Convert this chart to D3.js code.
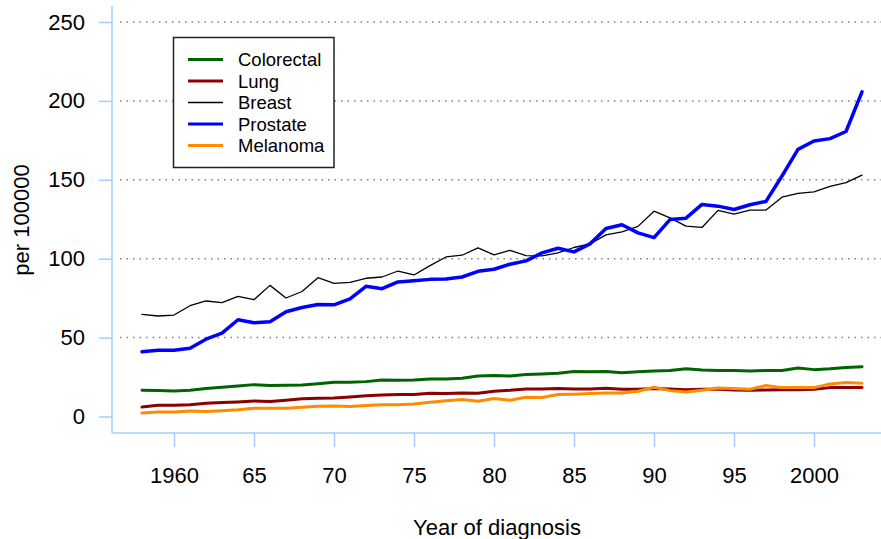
<!DOCTYPE html>
<html>
<head>
<meta charset="utf-8">
<script src="https://cdn.jsdelivr.net/npm/d3@7"></script>
<style>
  html, body { margin: 0; padding: 0; background: #fff; }
  svg { display: block; }
  text { font-family: "Liberation Sans", Arial, sans-serif; fill: #000; }
</style>
</head>
<body>
<svg id="chart" width="881" height="539"></svg>
<script>
// Incidence per 100000 by year of diagnosis
const years = [1958, 1959, 1960, 1961, 1962, 1963, 1964, 1965, 1966, 1967,
               1968, 1969, 1970, 1971, 1972, 1973, 1974, 1975, 1976, 1977,
               1978, 1979, 1980, 1981, 1982, 1983, 1984, 1985, 1986, 1987,
               1988, 1989, 1990, 1991, 1992, 1993, 1994, 1995, 1996, 1997,
               1998, 1999, 2000, 2001, 2002, 2003];

const colorectal = [16.6, 16.5, 16.2, 16.6, 17.7, 18.5, 19.4, 20.2, 19.6, 19.8,
                    20.0, 20.8, 21.7, 21.7, 22.1, 23.2, 23.0, 23.2, 23.8, 23.8,
                    24.3, 25.7, 26.0, 25.7, 26.6, 27.0, 27.4, 28.5, 28.3, 28.5,
                    27.8, 28.3, 28.9, 29.1, 30.2, 29.5, 29.2, 29.2, 28.9, 29.1,
                    29.2, 30.8, 29.7, 30.2, 31.0, 31.6];

const lung = [6.0, 7.1, 7.1, 7.5, 8.4, 8.8, 9.2, 9.8, 9.5, 10.3,
              11.3, 11.5, 11.8, 12.4, 13.2, 13.7, 13.9, 14.0, 14.7, 14.6,
              14.9, 14.7, 16.0, 16.6, 17.5, 17.5, 17.7, 17.5, 17.5, 17.9,
              17.3, 17.3, 17.7, 17.5, 17.0, 17.3, 17.3, 16.8, 16.6, 16.8,
              17.0, 17.0, 17.3, 18.3, 18.3, 18.3];

const breast = [64.7, 63.7, 64.3, 70.2, 73.2, 72.1, 76.1, 74.0, 83.1, 75.1,
                79.2, 88.0, 84.4, 85.0, 87.6, 88.4, 92.2, 89.7, 95.6, 101.1,
                102.2, 106.9, 102.4, 105.3, 102.0, 101.8, 103.7, 107.1, 109.4, 115.1,
                117.0, 120.5, 130.1, 125.9, 120.6, 119.8, 130.6, 128.2, 130.8, 130.8,
                139.0, 141.4, 142.4, 145.8, 148.2, 153.0];

const prostate = [41.0, 42.0, 42.0, 43.3, 49.0, 52.8, 61.3, 59.4, 60.0, 66.4,
                  69.1, 71.0, 70.8, 74.5, 82.5, 81.0, 85.3, 86.1, 86.9, 87.1,
                  88.4, 92.0, 93.3, 96.5, 98.6, 103.7, 106.6, 104.3, 109.4, 119.1,
                  121.5, 116.4, 113.4, 124.8, 125.7, 134.4, 133.3, 131.2, 134.2, 136.3,
                  152.4, 169.3, 174.6, 176.1, 180.6, 205.7];

const melanoma = [2.2, 2.9, 2.9, 3.5, 3.1, 3.7, 4.3, 5.2, 5.2, 5.2,
                  5.8, 6.5, 6.7, 6.3, 6.9, 7.5, 7.5, 7.9, 9.0, 10.0,
                  10.7, 9.6, 11.4, 10.3, 12.2, 12.0, 13.9, 14.1, 14.5, 14.9,
                  14.9, 16.0, 18.5, 16.4, 15.6, 16.6, 18.1, 17.7, 17.3, 19.6,
                  18.3, 18.3, 18.3, 20.6, 21.5, 21.1];

const seriesNames = ["Colorectal", "Lung", "Breast", "Prostate", "Melanoma"];
const xTickValues = [1960, 1965, 1970, 1975, 1980, 1985, 1990, 1995, 2000];
const xTickLabels = ["1960", "65", "70", "75", "80", "85", "90", "95", "2000"];
const yTickValues = [0, 50, 100, 150, 200, 250];

const series = [
  { name: seriesNames[0], values: colorectal, color: "#006400", width: 3 },
  { name: seriesNames[1], values: lung,       color: "#8b0000", width: 3 },
  { name: seriesNames[2], values: breast,     color: "#000000", width: 1.3 },
  { name: seriesNames[3], values: prostate,   color: "#0000ff", width: 3.5 },
  { name: seriesNames[4], values: melanoma,   color: "#ff8c00", width: 3 }
];

const svg = d3.select("#chart");
const axisColor = "#9fd0ff";
const plotLeft = 112, plotRight = 881, plotTop = 6, plotBottom = 433;

const x = d3.scaleLinear().domain([1958, 2003]).range([142, 862]);
const y = d3.scaleLinear().domain([0, 250]).range([416.5, 22]);

// dotted horizontal grid
svg.append("g")
  .selectAll("line")
  .data(yTickValues.filter(v => v > 0))
  .join("line")
  .attr("x1", plotLeft + 8).attr("x2", plotRight)
  .attr("y1", d => y(d)).attr("y2", d => y(d))
  .attr("stroke", "#808080")
  .attr("stroke-width", 1.5)
  .attr("stroke-dasharray", "1.5,5");

// left axis
const yAxis = d3.axisLeft(y).tickValues(yTickValues).tickSize(13).tickPadding(14)
  .tickFormat(d3.format("d"));
const gy = svg.append("g").attr("transform", `translate(${plotLeft},0)`).call(yAxis);
gy.select(".domain").remove();
gy.selectAll(".tick line").attr("stroke", axisColor).attr("stroke-width", 1.5);
gy.selectAll(".tick text").attr("font-size", 22)
  .style("font-family", '"Liberation Sans", Arial, sans-serif').attr("fill", "#000");
svg.append("line")
  .attr("x1", plotLeft).attr("x2", plotLeft)
  .attr("y1", plotTop).attr("y2", plotBottom)
  .attr("stroke", axisColor).attr("stroke-width", 1.5);

// bottom axis
const xAxis = d3.axisBottom(x).tickValues(xTickValues).tickSize(14).tickPadding(20)
  .tickFormat((d, i) => xTickLabels[i]);
const gx = svg.append("g").attr("transform", `translate(0,${plotBottom})`).call(xAxis);
gx.select(".domain").remove();
gx.selectAll(".tick line").attr("stroke", axisColor).attr("stroke-width", 1.5);
gx.selectAll(".tick text").attr("font-size", 22)
  .style("font-family", '"Liberation Sans", Arial, sans-serif').attr("fill", "#000");
svg.append("line")
  .attr("x1", plotLeft).attr("x2", plotRight)
  .attr("y1", plotBottom).attr("y2", plotBottom)
  .attr("stroke", axisColor).attr("stroke-width", 1.5);

// axis titles
svg.append("text")
  .attr("x", 497).attr("y", 535)
  .attr("text-anchor", "middle")
  .attr("font-size", 22)
  .text("Year of diagnosis");

svg.append("text")
  .attr("transform", "translate(29,220) rotate(-90)")
  .attr("text-anchor", "middle")
  .attr("font-size", 22)
  .text("per 100000");

// series lines
const line = d3.line()
  .x((d, i) => x(years[i]))
  .y(d => y(d));

svg.append("g")
  .selectAll("path")
  .data(series)
  .join("path")
  .attr("d", d => line(d.values))
  .attr("fill", "none")
  .attr("stroke", d => d.color)
  .attr("stroke-width", d => d.width)
  .attr("stroke-linejoin", "round")
  .attr("stroke-linecap", "round");

// legend
const legend = svg.append("g");
legend.append("rect")
  .attr("x", 173.5).attr("y", 37.5)
  .attr("width", 160.5).attr("height", 130)
  .attr("fill", "#fff")
  .attr("stroke", "#222")
  .attr("stroke-width", 1.5);

const rows = legend.selectAll("g.row")
  .data(series)
  .join("g")
  .attr("class", "row")
  .attr("transform", (d, i) => `translate(0,${59.5 + i * 21.5})`);
rows.append("line")
  .attr("x1", 188).attr("x2", 223)
  .attr("y1", 0).attr("y2", 0)
  .attr("stroke", d => d.color)
  .attr("stroke-width", d => d.width === 1.3 ? 1.3 : 3);
rows.append("text")
  .attr("x", 238).attr("y", 0).attr("dy", "0.36em")
  .attr("font-size", 18.5)
  .text(d => d.name);
</script>
</body>
</html>
